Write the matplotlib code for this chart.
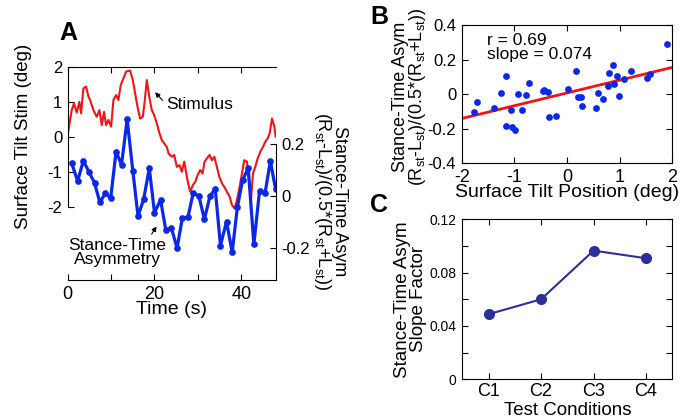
import numpy as np
import matplotlib
matplotlib.use('Agg')
import matplotlib.pyplot as plt

plt.rcParams['font.family'] = ['Liberation Sans', 'DejaVu Sans']
plt.rcParams['mathtext.default'] = 'regular'
plt.rcParams['axes.unicode_minus'] = False

# panel A: surface tilt stimulus (deg) vs time (s)
stim_t = [0, 0.92, 1.46, 2.08, 2.69, 3.08, 3.62, 4.23, 4.77, 5.15, 5.92, 6.69, 7.31,
          7.85, 8.38, 8.85, 9.38, 10.0, 10.54, 11.15, 11.69, 12.23, 12.85, 13.46, 14.38,
          15.0, 15.54, 16.08, 16.69, 17.31, 17.69, 18.23, 18.85, 19.38, 19.92, 20.54,
          21.15, 21.69, 22.23, 22.85, 23.23, 24.0, 24.54, 25.15, 25.77, 26.31, 26.85,
          27.46, 27.85, 28.23, 28.85, 29.38, 29.92, 30.54, 31.08, 31.54, 32.08, 32.69,
          33.23, 33.77, 34.38, 34.92, 35.54, 36.08, 36.69, 37.31, 37.85, 38.46, 39.0,
          39.62, 40.15, 40.69, 41.31, 41.77, 42.23, 42.69, 43.23, 43.77, 44.38, 45.0,
          45.54, 46.08, 46.54, 47.08, 47.62, 47.92]
stim_v = [0.05, 0.76, 0.95, 0.69, 1.0, 0.67, 1.38, 1.43, 1.15, 1.05, 0.76, 0.57, 0.76,
          0.33, 0.71, 0.33, 0.48, 0.29, 1.05, 1.19, 1.05, 1.48, 1.67, 1.86, 1.89,
          1.62, 1.24, 0.86, 0.52, 0.57, 0.95, 1.62, 1.10, 0.76, 0.62, 0.38,
          0.10, -0.10, -0.19, -0.29, -0.48, -0.57, -0.52, -0.86, -0.81, -1.0, -0.71,
          -1.14, -1.38, -1.57, -1.38, -1.29, -1.10, -0.95, -1.05, -0.71, -0.62, -0.52,
          -0.67, -0.57, -0.86, -1.14, -1.33, -1.43, -1.57, -1.71, -1.95, -2.05, -1.81,
          -1.43, -1.05, -0.67, -0.71, -1.24, -1.81, -1.05, -0.86, -0.62, -0.43, -0.29,
          -0.14, -0.05, 0.10, 0.52, 0.29, 0.0]

# panel A: stance-time asymmetry
asym_t = [0.92, 2.3, 3.6, 4.9, 6.2, 7.4, 8.7, 9.9, 11.15, 12.4, 13.7, 15.0, 16.2,
          17.5, 18.8, 20.0, 21.4, 22.6, 23.9, 25.2, 26.4, 27.7, 28.9, 30.2, 31.5,
          32.8, 34.0, 35.2, 36.6, 37.9, 39.1, 40.3, 41.6, 42.9, 44.2, 45.5, 46.7, 47.9]
asym_v = [0.125, 0.057, 0.135, 0.092, 0.049, -0.024, 0.010, -0.009, 0.170, 0.119,
          0.294, 0.097, -0.077, -0.013, 0.106, -0.064, -0.015, -0.130, -0.123, -0.200,
          -0.086, -0.082, 0.010, 0.001, -0.089, 0.0, 0.027, -0.190, -0.098, -0.216,
          -0.043, 0.061, 0.106, -0.185, 0.019, 0.013, 0.134, 0.026]

# panel B: asymmetry vs tilt position
tilt_x = [-1.76, -1.70, -1.39, -1.26, -1.16, -1.15, -1.07, -1.05, -0.98, -0.94, -0.86,
          -0.78, -0.72, -0.46, -0.43, -0.37, -0.34, -0.20, 0.025, 0.165, 0.215, 0.266,
          0.29, 0.545, 0.595, 0.684, 0.77, 0.80, 0.88, 0.886, 0.955, 0.99, 1.08, 1.21,
          1.52, 1.58, 1.89]
tilt_y = [-0.101, -0.044, -0.082, 0.009, 0.105, -0.184, -0.092, -0.192, -0.207, 0.001,
          -0.092, -0.003, 0.063, 0.020, 0.024, 0.013, -0.134, -0.126, 0.028, 0.134,
          -0.018, -0.015, -0.067, -0.078, 0.009, -0.026, 0.047, 0.124, 0.169, 0.057,
          0.105, -0.012, 0.089, 0.134, 0.095, 0.115, 0.292]
fit_slope = 0.074
fit_icpt = 0.007

# panel C: slope factor per condition
conds = ['C1', 'C2', 'C3', 'C4']
slope_factor = [0.0488, 0.060, 0.0965, 0.0908]

W, H = 698, 420
fig = plt.figure(figsize=(W / 100, H / 100), dpi=100)

def px_axes(x0, y0, x1, y1):
    return fig.add_axes([x0 / W, 1 - y1 / H, (x1 - x0) / W, (y1 - y0) / H])

tick_kw = dict(direction='in', length=4, width=0.8, labelsize=12, pad=4)
asym_label = 'Stance-Time Asym\n(R$_{st}$-L$_{st}$)/(0.5*(R$_{st}$+L$_{st}$))'

# ---- A
axA = px_axes(67.7, 66.7, 276, 280)
axA.plot(stim_t, stim_v, color='#f01414', lw=1.5)
axA.set_xlim(0, 48)
axA.set_ylim(-4.09, 2)
axA.spines['left'].set_bounds(-2, 2)
axA.spines['right'].set_visible(False)
axA.set_yticks([-2, -1, 0, 1, 2])
axA.set_xticks([0, 10, 20, 30, 40])
axA.set_xticklabels(['0', '', '20', '', '40'])
axA.tick_params(axis='both', top=True, **tick_kw)
axA.tick_params(axis='x', labelsize=13)
axA.set_xlabel('Time (s)', fontsize=14, labelpad=-1)

axA2 = axA.twinx()
axA2.plot(asym_t, asym_v, color='#0a28e6', lw=2.3, marker='o', ms=3.8)
axA2.set_ylim(-0.322, 0.495)
for s in ['left', 'top', 'bottom']:
    axA2.spines[s].set_visible(False)
axA2.spines['right'].set_bounds(-0.322, 0.2)
axA2.set_yticks([-0.2, 0, 0.2])
axA2.set_yticklabels(['-0.2', '0', '0.2'])
axA2.tick_params(axis='y', **tick_kw)

fig.text(24 / W, 1 - 136 / H, 'Surface Tilt Stim (deg)', rotation=90,
         ha='center', va='center', fontsize=13.5)
fig.text(330 / W, 1 - 201 / H, asym_label,
         rotation=270, ha='center', va='center', multialignment='center', fontsize=13,
         linespacing=0.9)

axA.annotate('', xy=(19.7, 1.33), xytext=(22.3, 0.98),
             arrowprops=dict(arrowstyle='-|>', color='k', lw=0.8, mutation_scale=7))
axA.text(22.6, 0.92, 'Stimulus', fontsize=12.5, ha='left', va='center')
axA.annotate('', xy=(20.8, -2.49), xytext=(19.0, -2.85),
             arrowprops=dict(arrowstyle='-|>', color='k', lw=0.8, mutation_scale=7))
axA.text(11.4, -3.3, 'Stance-Time\nAsymmetry', fontsize=12.5, ha='center', va='center',
         linespacing=0.9)
fig.text(68 / W, 1 - 33 / H, 'A', fontsize=18, fontweight='bold', ha='center', va='center')

# ---- B
axB = px_axes(461.7, 25, 672.3, 163.3)
axB.scatter(tilt_x, tilt_y, s=24, color='#0a28e6', zorder=3, linewidths=0)
fx = np.array([-2, 2])
axB.plot(fx, fit_slope * fx + fit_icpt, color='#f01414', lw=2)
axB.set_xlim(-2, 2)
axB.set_ylim(-0.4, 0.4)
axB.set_xticks([-2, -1, 0, 1, 2])
axB.set_yticks([-0.4, -0.2, 0, 0.2, 0.4])
axB.set_yticklabels(['-0.4', '-0.2', '0', '0.2', '0.4'])
axB.set_xticklabels(['-2', '-1', '0', '1', '2'])
axB.tick_params(axis='both', top=True, right=True, **tick_kw)
axB.tick_params(axis='x', labelsize=13)
axB.text(0.12, 0.94, 'r = 0.69\nslope = 0.074', transform=axB.transAxes,
         fontsize=12.5, ha='left', va='top', linespacing=0.9)
axB.set_xlabel('Surface Tilt Position (deg)', fontsize=14, labelpad=-1)
fig.text(410 / W, 1 - 97 / H, asym_label, rotation=90, ha='center', va='center',
         multialignment='center', fontsize=13, linespacing=0.9)
fig.text(379 / W, 1 - 17 / H, 'B', fontsize=18, fontweight='bold', ha='center', va='center')

# ---- C
axC = px_axes(462.3, 219.3, 672.3, 379.3)
axC.plot(range(1, 5), slope_factor, color='#2b2f9a', lw=1.5, marker='o', ms=7)
axC.set_xlim(0.5, 4.5)
axC.set_ylim(0, 0.12)
axC.set_xticks(range(1, 5))
axC.set_xticklabels(conds)
axC.set_yticks(np.arange(0, 0.121, 0.02))
axC.set_yticklabels(['0', '', '0.04', '', '0.08', '', '0.12'])
axC.tick_params(axis='both', top=True, right=True, **tick_kw)
axC.tick_params(axis='y', labelsize=10)
axC.tick_params(axis='x', labelsize=13, pad=3)
axC.set_xlabel('Test Conditions', fontsize=13.5, labelpad=1)
axC.set_ylabel('Stance-Time Asym\nSlope Factor', fontsize=13.5, linespacing=0.9, labelpad=2)
fig.text(379 / W, 1 - 205 / H, 'C', fontsize=18, fontweight='bold', ha='center', va='center')

fig.savefig('out.png', dpi=100)
